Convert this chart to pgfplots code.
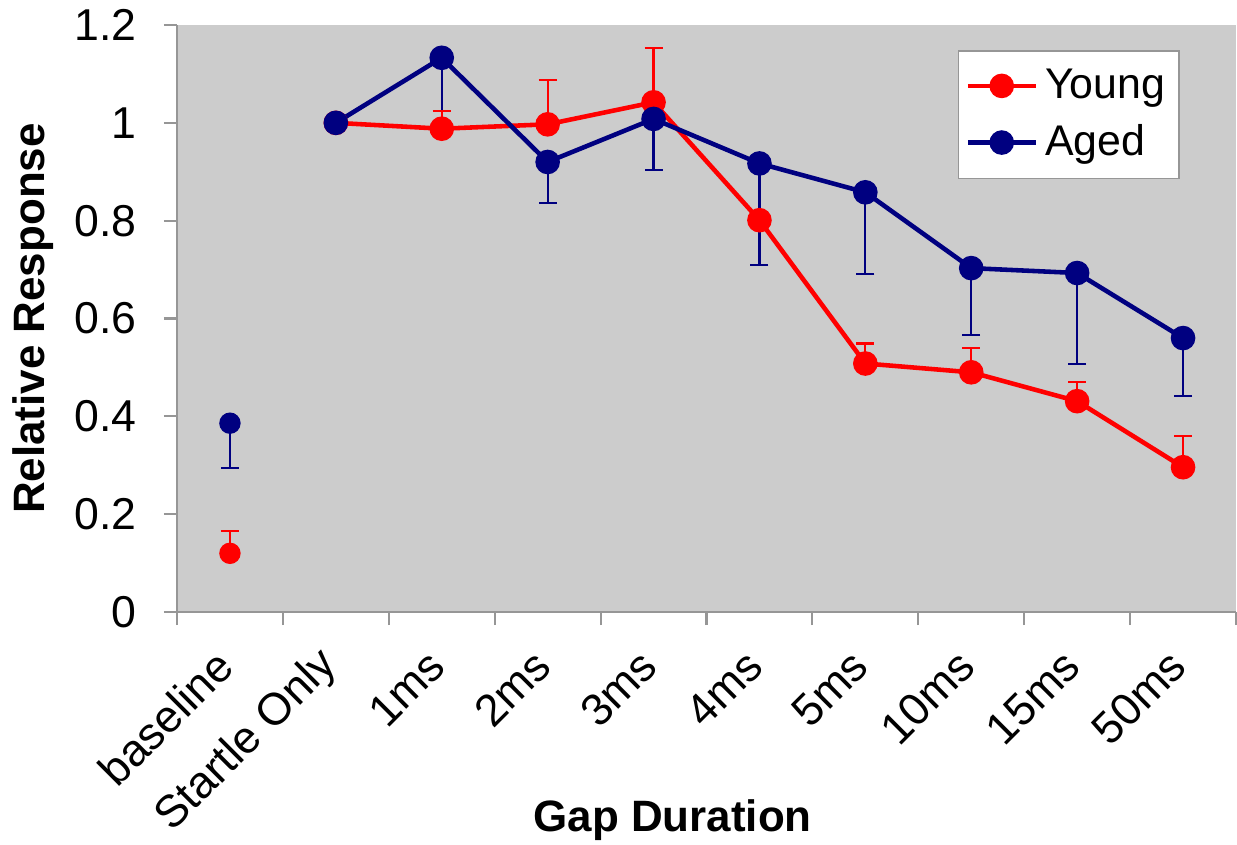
\documentclass[border=0pt]{standalone}
\usepackage{pgfplots}
\pgfplotsset{compat=1.18}
\usepackage{fontspec}
\setmainfont{Liberation Sans}
\definecolor{young}{RGB}{255,0,0}
\definecolor{aged}{RGB}{0,0,128}
\definecolor{plotbg}{RGB}{204,204,204}
\definecolor{axgray}{RGB}{150,150,150}

% x: 0 baseline, 1 Startle Only, 2 1ms ... 9 50ms
\pgfplotstableread{
x  y      e
0  0.120  0.046
}\youngbase
\pgfplotstableread{
x  y      e
1  1.000  0.000
2  0.988  0.036
3  0.997  0.091
4  1.042  0.111
5  0.801  0.005
6  0.508  0.041
7  0.490  0.050
8  0.431  0.040
9  0.296  0.064
}\young
\pgfplotstableread{
x  y      e
0  0.386  0.092
}\agedbase
\pgfplotstableread{
x  y      e
1  1.000  0.000
2  1.133  0.160
3  0.920  0.084
4  1.008  0.104
5  0.917  0.208
6  0.858  0.167
7  0.703  0.137
8  0.693  0.186
9  0.560  0.118
}\aged

\pgfplotsset{
  errstyle/.style 2 args={
    error bars/.cd, y explicit, y dir=#2,
    error mark=|,
    error bar style={#1, line width=0.6pt},
    error mark options={#1, line width=0.6pt, mark size=0.09cm},
  }}

\begin{document}
\begin{tikzpicture}
\useasboundingbox (-1.77,-2.33) rectangle (10.60,6.12);
\begin{axis}[
    at={(0,0)}, anchor=south west,
    scale only axis, width=10.59cm, height=5.87cm,
    axis background/.style={fill=plotbg},
    axis x line*=bottom, axis y line*=left,
    axis line style={axgray, line width=0.6pt},
    xmin=-0.5, xmax=9.5, ymin=0, ymax=1.2,
    xtick={0,...,9},
    xticklabels={baseline,Startle Only,1ms,2ms,3ms,4ms,5ms,10ms,15ms,50ms},
    major x tick style={draw=none},
    minor xtick={-0.5,0.5,...,9.5},
    minor tick length=0.13cm,
    minor x tick style={axgray, line width=0.6pt},
    ytick={0,0.2,...,1.2},
    yticklabels={0,0.2,0.4,0.6,0.8,1,1.2},
    tick align=outside,
    major tick length=0.13cm,
    major y tick style={axgray, line width=0.6pt},
    /pgf/number format/assume math mode=true,
    yticklabel style={font=\fontsize{12.7}{14}\selectfont, anchor=east, xshift=-0.15cm},
    xticklabel style={font=\fontsize{12.8}{14}\selectfont, rotate=45, anchor=east, xshift=-0.15cm, yshift=-0.2cm},
    xlabel={\textbf{Gap Duration}},
    ylabel={\textbf{Relative Response}},
    xlabel style={font=\fontsize{12.5}{14}\selectfont, at={(axis description cs:0.468,-0.354)}, anchor=center},
    ylabel style={font=\fontsize{12.5}{14}\selectfont, at={(axis description cs:-0.136,0.5)}, anchor=center, rotate=0},
    legend style={at={(0.947,0.957)}, anchor=north east, draw=axgray, fill=white,
      font=\fontsize{12.2}{15}\selectfont, inner xsep=2pt, inner ysep=3pt, row sep=2pt},
    legend cell align=left,
    legend image code/.code={
      \draw[#1, line width=1.3pt] (0cm,0cm) -- (0.68cm,0cm);
      \draw[#1, mark=*, mark size=0.1cm] plot coordinates {(0.34cm,0cm)};
    },
    clip=false,
]
% aged error bars first so they sit under the markers
\addplot[aged, draw=none, forget plot, errstyle={aged}{minus}]
  table[x=x, y=y, y error=e] {\aged};
\addplot[aged, draw=none, forget plot, errstyle={aged}{minus}]
  table[x=x, y=y, y error=e] {\agedbase};
% young
\addplot[young, only marks, mark=*, mark size=0.1cm, forget plot, errstyle={young}{plus}]
  table[x=x, y=y, y error=e] {\youngbase};
\addplot[young, line width=1.3pt, mark=*, mark size=0.1cm, errstyle={young}{plus}]
  table[x=x, y=y, y error=e] {\young};
\addlegendentry{Young}
% aged markers and line
\addplot[aged, only marks, mark=*, mark size=0.1cm, forget plot]
  table[x=x, y=y] {\agedbase};
\addplot[aged, line width=1.3pt, mark=*, mark size=0.1cm]
  table[x=x, y=y] {\aged};
\addlegendentry{Aged}
\end{axis}
\end{tikzpicture}
\end{document}
